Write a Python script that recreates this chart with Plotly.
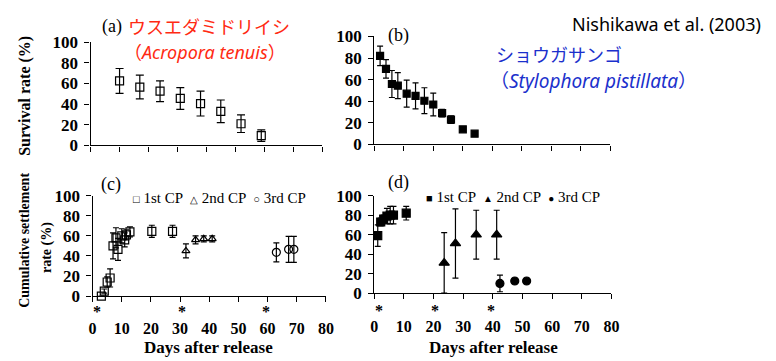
import plotly.graph_objects as go

W, H = 776, 361

# ---------------- data ----------------
# (a) Acropora tenuis survival
a_days = [10, 17, 24, 31, 38, 45, 52, 59]
a_surv = [62.5, 56.5, 52.5, 45.5, 40.5, 33, 21, 9.5]
a_err = [12, 11.5, 10, 10.5, 12, 11, 8.5, 5.5]

# (b) Stylophora pistillata survival
b_days = [2, 4, 6, 8, 11, 14, 17, 20, 23, 26, 30, 34]
b_surv = [82, 70, 56, 54.5, 47, 45, 40.5, 37, 29, 23, 14, 10]
b_err = [9, 8.5, 12.5, 12, 12.5, 12, 12, 10.5, 3.5, 3.5, 0, 0]

# (c) Acropora tenuis cumulative settlement
c1_days = [3, 4, 5, 6, 7, 8, 8.7, 10, 11, 11.6, 12.8, 20.3, 27.4]
c1_vals = [0, 5, 14, 18, 50, 58, 46.5, 60, 56, 61, 64, 64.5, 64.5]
c1_err = [0, 2, 5, 9, 13, 10, 11, 7, 7, 5, 5, 6, 6]
c2_days = [32, 35.3, 38.1, 41]
c2_vals = [45, 56, 57, 57]
c2_err = [7, 4, 3, 3]
c3_days = [63, 67.2, 69]
c3_vals = [43.5, 46.5, 46.5]
c3_err = [9.5, 13, 13]
c_release = [1.5, 30.5, 59.5]

# (d) Stylophora pistillata cumulative settlement
d1_days = [1.2, 2.2, 3.2, 4.3, 5.4, 6.5, 10.8]
d1_vals = [59, 73, 76, 79, 80, 80, 82]
d1_err = [11, 4, 4, 8, 9, 9, 7]
d2_days = [23.6, 27.4, 34.4, 41.3]
d2_vals = [31, 51, 60, 60]
d2_err = [31, 35.5, 25, 25]
d3_days = [42.4, 47.4, 51.4]
d3_vals = [10, 12.5, 12.5]
d3_err = [8.5, 2, 2]
d_release = [1.5, 20.5, 39.5]

x_ticks = [0, 10, 20, 30, 40, 50, 60, 70, 80]
y_ticks = [0, 20, 40, 60, 80, 100]

SERIF = "Liberation Serif, Times New Roman, serif"
SANS = "Noto Sans, Noto Sans CJK JP, sans-serif"
CJK = "Noto Sans CJK JP, sans-serif"
RED = "#ff2a12"
BLUE = "#1b30cc"

def px(x):
    return x / W

def py(y):
    return (H - y) / H

fig = go.Figure()

def add_series(xs, ys, errs, ax, symbol, size, cap=3.5):
    fig.add_trace(go.Scatter(
        x=xs, y=ys, mode="markers", xaxis="x" + ax, yaxis="y" + ax,
        marker=dict(symbol=symbol, size=size, color="black",
                    line=dict(color="black", width=1.2)),
        error_y=dict(type="data", array=errs, visible=True, color="black",
                     thickness=1.2, width=cap),
        cliponaxis=False, showlegend=False, hoverinfo="skip"))

add_series(a_days, a_surv, a_err, "", "square-open", 8, 4)
add_series(b_days, b_surv, b_err, "2", "square", 7, 3)
add_series(c1_days, c1_vals, c1_err, "3", "square-open", 8, 3)
add_series(c2_days, c2_vals, c2_err, "3", "triangle-up-open", 7, 3)
add_series(c3_days, c3_vals, c3_err, "3", "circle-open", 8, 3)
add_series(d1_days, d1_vals, d1_err, "4", "square", 8, 3)
add_series(d2_days, d2_vals, d2_err, "4", "triangle-up", 9, 3)
add_series(d3_days, d3_vals, d3_err, "4", "circle", 8, 3)

# release markers (asterisks) just below the x axes (x in data units)
for xs, ax, ypix in [(c_release, "3", 319), (d_release, "4", 318)]:
    for xv in xs:
        fig.add_annotation(
            text="<b>*</b>", x=xv, y=py(ypix), xref="x" + ax, yref="paper",
            showarrow=False, xanchor="center", yanchor="middle",
            font=dict(family=SERIF, size=16, color="black"))

def xax(domain, anchor, labels):
    return dict(domain=domain, anchor=anchor, range=[0, 80], tickvals=x_ticks,
                ticktext=["<b>%d</b>" % v for v in x_ticks],
                showticklabels=labels, ticks="outside", ticklen=5, tickwidth=1.3,
                tickcolor="black", showline=True, linecolor="black", linewidth=1.3,
                showgrid=False, zeroline=False, ticklabelstandoff=13,
                tickfont=dict(family=SERIF, size=16, color="black"))

def yax(domain, anchor):
    return dict(domain=domain, anchor=anchor, range=[0, 100], tickvals=y_ticks,
                ticktext=["<b>%d</b>" % v for v in y_ticks],
                ticks="outside", ticklen=5, tickwidth=1.3, tickcolor="black",
                showline=True, linecolor="black", linewidth=1.3,
                showgrid=False, zeroline=False, ticklabelstandoff=3,
                tickfont=dict(family=SERIF, size=17, color="black"))

fig.update_layout(
    width=W, height=H, margin=dict(l=0, r=0, t=0, b=0),
    paper_bgcolor="white", plot_bgcolor="white",
    xaxis=xax([px(88), px(323)], "y", False),
    yaxis=yax([py(144), py(35)], "x"),
    xaxis2=xax([px(376), px(616)], "y2", False),
    yaxis2=yax([py(143), py(29)], "x2"),
    xaxis3=xax([px(90), px(327)], "y3", True),
    yaxis3=yax([py(303), py(197)], "x3"),
    xaxis4=xax([px(376), px(617)], "y4", True),
    yaxis4=yax([py(300), py(197)], "x4"),
)

def ann(text, x, y, size, family=SERIF, color="black", xanchor="center",
        angle=0, bold=False):
    if bold:
        text = "<b>" + text + "</b>"
    fig.add_annotation(
        text=text, x=px(x), y=py(y), xref="paper", yref="paper",
        xanchor=xanchor, yanchor="middle", showarrow=False, textangle=angle,
        font=dict(family=family, size=size, color=color))

# axis titles
ann("Survival rate (%)", 21, 92, 16, angle=-90, bold=True)
ann("Cumulative settlement", 20, 244, 14, angle=-90, bold=True)
ann("rate (%)", 43, 252, 14, angle=-90, bold=True)
ann("Days after release", 208, 357, 17, bold=True)
ann("Days after release", 497, 357, 17, bold=True)

# panel labels & species names
ann("(a)", 98, 18, 18, xanchor="left")
ann("ウスエダミドリイシ", 124, 18, 18, family=CJK, color=RED, xanchor="left")
ann("（<i>Acropora tenuis</i>）", 204, 45, 18, family=SANS, color=RED)
ann("(b)", 388, 28, 18, xanchor="left")
ann("ショウガサンゴ", 498, 48, 18, family=CJK, color=BLUE, xanchor="left")
ann("（<i>Stylophora pistillata</i>）", 599, 76, 19, family=SANS, color=BLUE)
ann("Nishikawa et al. (2003)", 771, 16, 18, family=SANS, xanchor="right")
ann("(c)", 96, 185, 18, xanchor="left")
ann("(d)", 388, 183, 18, xanchor="left")

# inline legends
ann("<span style='font-size:11px'>□</span> 1st CP  <span style='font-size:10px'>△</span> 2nd CP  "
    "<span style='font-size:11px'>○</span> 3rd CP", 129, 199, 15, xanchor="left")
ann("<span style='font-size:11px'>■</span> 1st CP  <span style='font-size:10px'>▲</span> 2nd CP  "
    "<span style='font-size:10px'>●</span> 3rd CP", 427, 198, 15, xanchor="left")

fig.write_html("out.html", config={"displayModeBar": False},
               post_script="document.body.style.margin='0px';")
